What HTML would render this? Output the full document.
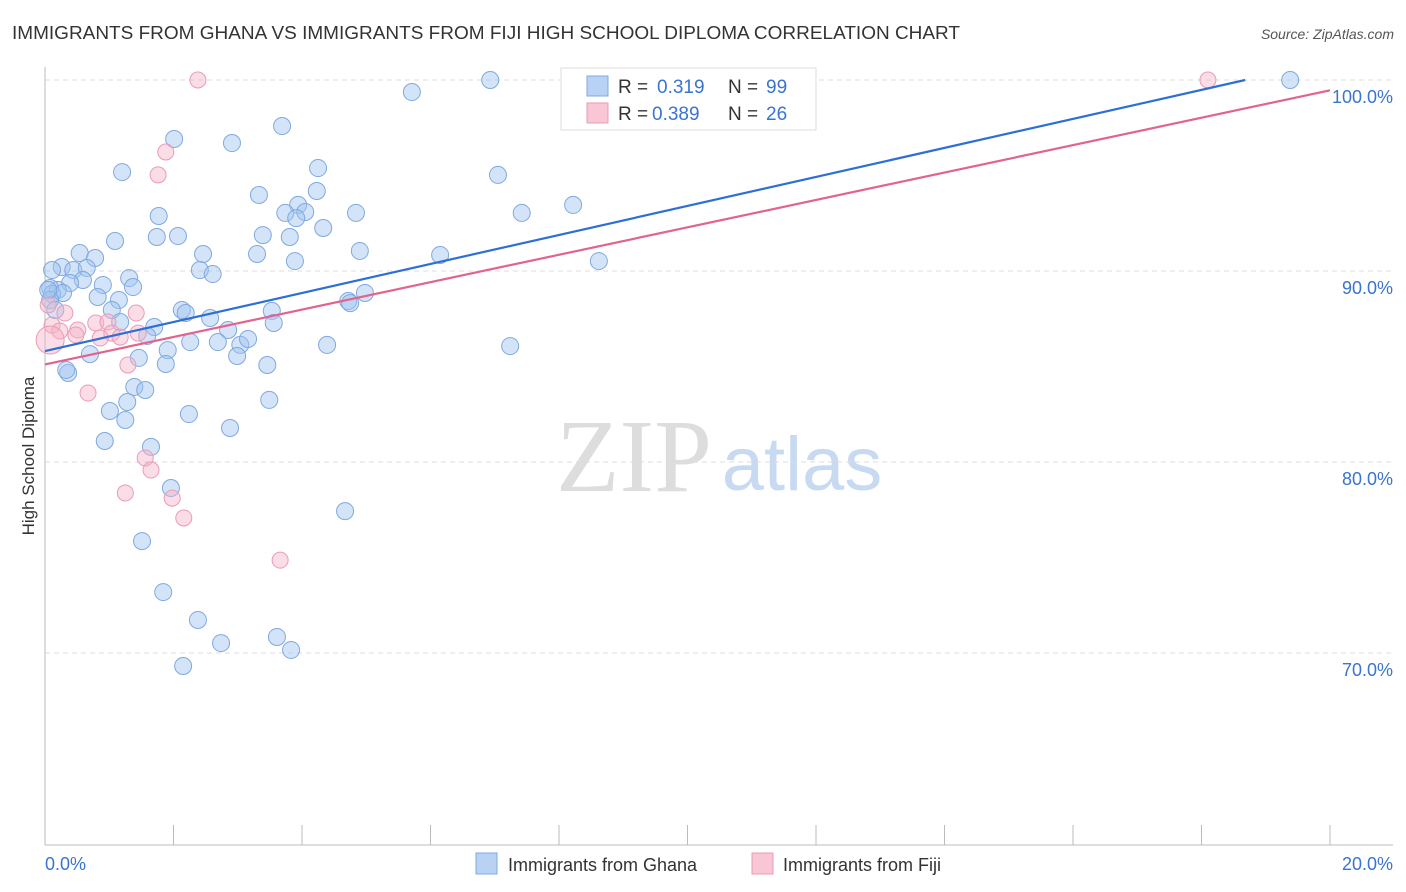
<!DOCTYPE html>
<html><head><meta charset="utf-8"><style>
body{margin:0;background:#fff;font-family:"Liberation Sans",sans-serif;}
#wrap{position:relative;width:1406px;height:892px;overflow:hidden;}
</style></head><body>
<div id="wrap">
<svg id="svg" width="1406" height="892">
<text x="12" y="39" font-size="18" fill="#333" textLength="948" lengthAdjust="spacingAndGlyphs">IMMIGRANTS FROM GHANA VS IMMIGRANTS FROM FIJI HIGH SCHOOL DIPLOMA CORRELATION CHART</text>
<text x="1394" y="39" font-size="14" fill="#555" text-anchor="end" font-style="italic">Source: ZipAtlas.com</text>
<text transform="translate(34,456) rotate(-90)" font-size="17" fill="#333" text-anchor="middle">High School Diploma</text>
<g><text x="634" y="491" font-size="104" fill="#ddd" text-anchor="middle" font-family="Liberation Serif,serif">ZIP</text><text x="802" y="490" font-size="76" fill="#c8daf2" text-anchor="middle">atlas</text></g>
<g id="grid"></g><g id="axes"></g><g id="pts"></g><g id="lines"></g>
<g>
<rect x="561" y="68" width="255" height="62" fill="#fff" stroke="#ddd"/>
<rect x="587" y="76" width="21" height="20" fill="#b8d2f5" stroke="#7fa9e0"/>
<rect x="587" y="103" width="21" height="20" fill="#f9c6d6" stroke="#eb9bb5"/>
<text x="618" y="93" font-size="19" fill="#333">R = </text><text x="657" y="93" font-size="19" fill="#3a74d0">0.319</text>
<text x="728" y="93" font-size="19" fill="#333">N = </text><text x="766" y="93" font-size="19" fill="#3a74d0">99</text>
<text x="618" y="120" font-size="19" fill="#333">R = </text><text x="652" y="120" font-size="19" fill="#3a74d0">0.389</text>
<text x="728" y="120" font-size="19" fill="#333">N = </text><text x="766" y="120" font-size="19" fill="#3a74d0">26</text>
</g>
<g>
<rect x="476" y="853" width="21" height="21" fill="#b8d2f5" stroke="#7fa9e0"/>
<text x="508" y="871" font-size="18" fill="#333">Immigrants from Ghana</text>
<rect x="752" y="853" width="21" height="21" fill="#f9c6d6" stroke="#eb9bb5"/>
<text x="783" y="871" font-size="18" fill="#333">Immigrants from Fiji</text>
</g>
</svg>
</div>
<script>
const ghanaX=[6.93,19.38,5.71,3.69,2.01,2.91,1.20,4.25,7.05,4.23,3.33,1.77,4.84,7.42,8.22,3.94,3.74,4.05,3.91,4.33,1.74,2.07,3.39,3.81,1.09,0.54,2.46,3.30,4.90,6.15,8.62,0.78,3.89,0.26,0.44,0.65,2.41,2.61,0.11,1.31,0.59,0.39,0.90,1.37,0.20,0.08,0.11,0.28,0.82,1.15,4.98,4.72,4.75,1.04,2.13,2.19,3.53,2.57,1.17,3.56,1.70,1.59,2.85,2.69,3.04,3.16,2.26,1.91,0.70,4.39,7.24,2.99,1.46,1.88,3.46,0.36,1.39,1.56,1.28,3.49,1.01,2.24,1.25,2.88,0.93,1.65,1.96,4.67,1.51,1.84,2.38,2.74,3.61,3.83,2.15,0.08,0.16,0.05,0.33];
const ghanaY=[100.89,100.89,100.26,98.48,97.80,97.59,96.07,96.28,95.92,95.08,94.87,93.77,93.93,93.93,94.35,94.35,93.93,93.98,93.66,93.14,92.67,92.72,92.77,92.67,92.46,91.83,91.78,91.78,91.94,91.73,91.41,91.57,91.41,91.10,90.94,91.05,90.94,90.73,90.94,90.52,90.42,90.26,90.16,90.05,89.90,90.0,89.69,89.74,89.53,89.37,89.74,89.32,89.21,88.85,88.85,88.69,88.80,88.43,88.22,88.17,87.96,87.49,87.80,87.17,87.02,87.33,87.17,86.75,86.54,87.02,86.96,86.44,86.34,86.02,85.97,85.55,84.82,84.66,84.03,84.14,83.56,83.40,83.09,82.67,81.99,81.68,79.53,78.32,76.75,74.08,72.62,71.41,71.73,71.05,70.21,89.37,88.85,89.90,85.71];
const fijiX=[2.38,18.10,1.88,1.76,0.05,0.31,1.42,0.11,0.23,0.51,0.79,0.98,0.48,1.04,1.17,1.45,0.86,1.29,0.67,1.56,1.65,1.98,1.25,2.16,3.66,0.08];
const fijiY=[100.89,100.89,97.12,95.92,89.11,88.69,88.69,88.06,87.75,87.80,88.17,88.22,87.54,87.64,87.43,87.64,87.38,85.97,84.50,81.10,80.47,79.0,79.27,77.96,75.75,87.28];
const ghanaTrend=[[0,86.7],[18.68,100.89]];
const fijiTrend=[[0,86.0],[20,100.35]];
const yTicks=[100,90,80,70];
const yTickLabels=["100.0%","90.0%","80.0%","70.0%"];
const xTicks=[0,2,4,6,8,10,12,14,16,18,20];
const NS="http://www.w3.org/2000/svg";
function xS(v){return 45+v*64.25;}
function yS(v){return 97+(100-v)*19.1;}
function mk(tag,attrs,parent){const e=document.createElementNS(NS,tag);for(const k in attrs)e.setAttribute(k,attrs[k]);document.getElementById(parent).appendChild(e);return e;}
yTicks.forEach((t,i)=>{
 const g=mk('line',{x1:45,x2:1393,y1:yS(t)-17,y2:yS(t)-17,stroke:'#ddd','stroke-dasharray':'5,4'},'grid');
 
 
 const l=mk('text',{x:1393,y:yS(t)+6,'font-size':18,fill:'#3a74d0','text-anchor':'end'},'grid');
 l.textContent=yTickLabels[i];
 
 
});
const ax=mk('line',{x1:45,x2:45,y1:67,y2:845,stroke:'#bbb'},'axes');


const bx=mk('line',{x1:45,x2:1393,y1:845,y2:845,stroke:'#bbb'},'axes');


xTicks.forEach(t=>{
 const tk=mk('line',{x1:xS(t),x2:xS(t),y1:825,y2:845,stroke:'#bbb'},'axes');
 
 
});
const xl0=mk('text',{x:45,y:870,'font-size':18,fill:'#3a74d0'},'axes');xl0.textContent=xTicks[0].toFixed(1)+'%';


const xl1=mk('text',{x:1393,y:870,'font-size':18,fill:'#3a74d0','text-anchor':'end'},'axes');xl1.textContent=xTicks[xTicks.length-1].toFixed(1)+'%';


ghanaX.forEach((x,i)=>{
 const c=mk('circle',{cx:xS(x),cy:yS(ghanaY[i]),r:8.5,fill:'rgba(160,195,240,0.45)',stroke:'#7fa9e0','stroke-width':1},'pts');
 
 
});
fijiX.forEach((x,i)=>{
 const c=mk('circle',{cx:xS(x),cy:yS(fijiY[i]),r:i==fijiX.length-1?14:8,fill:'rgba(245,180,200,0.45)',stroke:'#eb9bb5','stroke-width':1},'pts');
 
 
});
const bl=mk('line',{x1:xS(ghanaTrend[0][0]),y1:yS(ghanaTrend[0][1]),x2:xS(ghanaTrend[1][0]),y2:yS(ghanaTrend[1][1]),stroke:'#2e6fd6','stroke-width':2.2},'lines');


const pl=mk('line',{x1:xS(fijiTrend[0][0]),y1:yS(fijiTrend[0][1]),x2:xS(fijiTrend[1][0]),y2:yS(fijiTrend[1][1]),stroke:'#e2648e','stroke-width':2.2},'lines');


</script>
</body></html>
